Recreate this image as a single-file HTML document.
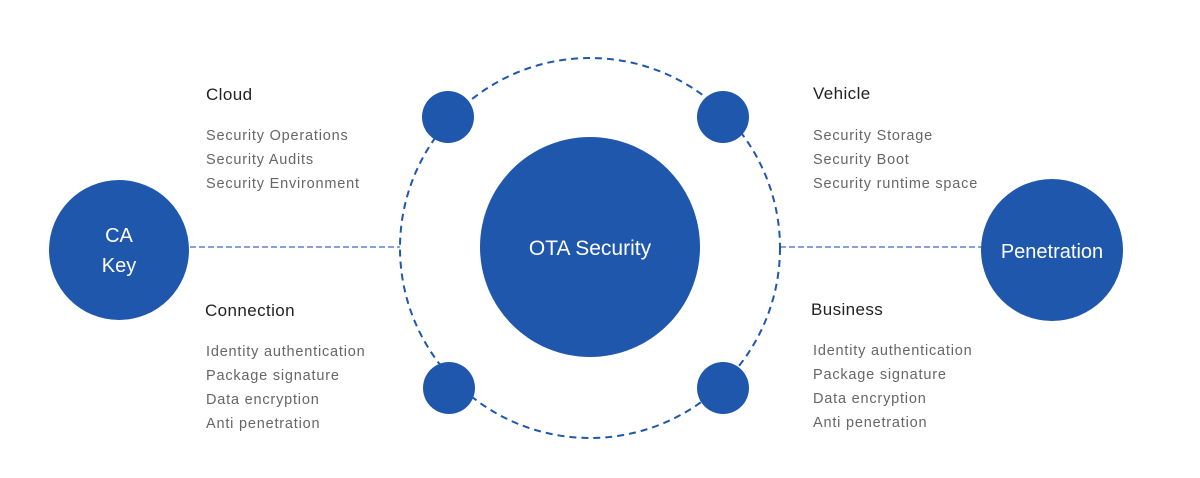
<!DOCTYPE html>
<html><head><style>
body{margin:0;width:1200px;height:478px;background:#fff;position:relative;overflow:hidden;font-family:"Liberation Sans",sans-serif}
.t{position:absolute;white-space:nowrap}
.h{font-size:17px;color:#222;letter-spacing:0.4px}
.i{font-size:14.5px;color:#666;line-height:24px;letter-spacing:0.8px}
</style></head><body>
<svg width="1200" height="478" style="position:absolute;left:0;top:0">
<rect x="0" y="0" width="1200" height="478" fill="#fff"/>
<line x1="190" y1="247" x2="400" y2="247" stroke="#5b84c8" stroke-width="1.5" stroke-dasharray="6,3"/>
<line x1="780" y1="247" x2="982" y2="247" stroke="#5b84c8" stroke-width="1.5" stroke-dasharray="6,3"/>
<circle cx="590" cy="248" r="190" fill="none" stroke="#1f57ad" stroke-width="2" stroke-dasharray="7,5"/>
<circle cx="590" cy="247" r="110" fill="#1f57ad"/>
<circle cx="448" cy="117" r="26" fill="#1f57ad"/>
<circle cx="723" cy="117" r="26" fill="#1f57ad"/>
<circle cx="449" cy="388" r="26" fill="#1f57ad"/>
<circle cx="723" cy="388" r="26" fill="#1f57ad"/>
<circle cx="119" cy="250" r="70" fill="#1f57ad"/>
<circle cx="1052" cy="250" r="71" fill="#1f57ad"/>
<text x="590" y="255" fill="#fff" font-size="21" text-anchor="middle" font-family="Liberation Sans">OTA Security</text>
<text x="119" y="242" fill="#fff" font-size="20" text-anchor="middle" font-family="Liberation Sans">CA</text>
<text x="119" y="272" fill="#fff" font-size="20" text-anchor="middle" font-family="Liberation Sans">Key</text>
<text x="1052" y="258" fill="#fff" font-size="20" text-anchor="middle" font-family="Liberation Sans">Penetration</text>
</svg>
<div class="t h" style="left:206px;top:85px">Cloud</div>
<div class="t i" style="left:206px;top:124px">Security Operations<br>Security Audits<br>Security Environment</div>
<div class="t h" style="left:205px;top:301px">Connection</div>
<div class="t i" style="left:206px;top:340px">Identity authentication<br>Package signature<br>Data encryption<br>Anti penetration</div>
<div class="t h" style="left:813px;top:84px">Vehicle</div>
<div class="t i" style="left:813px;top:124px">Security Storage<br>Security Boot<br>Security runtime space</div>
<div class="t h" style="left:811px;top:300px">Business</div>
<div class="t i" style="left:813px;top:339px">Identity authentication<br>Package signature<br>Data encryption<br>Anti penetration</div>
</body></html>
